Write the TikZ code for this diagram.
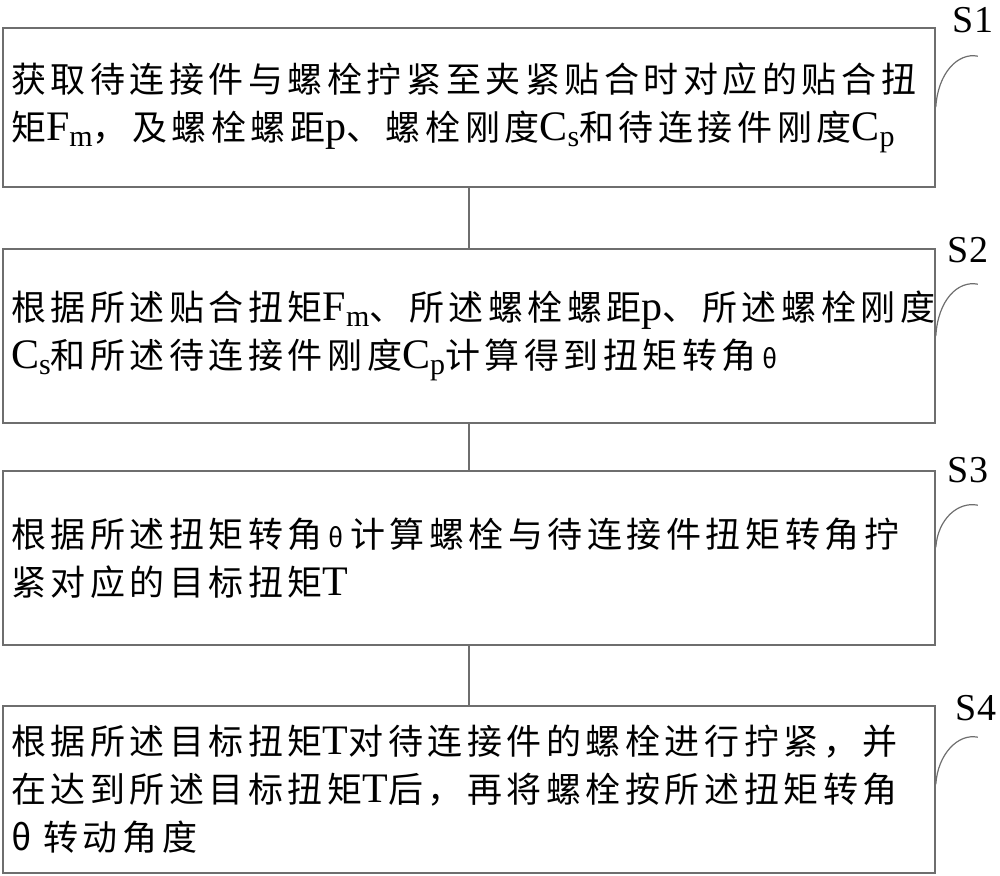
\documentclass[tikz,border=0pt]{standalone}
\usepackage{fontspec}
\setmainfont{Liberation Serif}
\newfontfamily\cjk[LetterSpace=13]{Noto Sans CJK SC}
\definecolor{framegray}{RGB}{110,110,110}
\newcommand{\lat}[1]{{\rmfamily\fontsize{21}{24}\selectfont #1}}
\newcommand{\lsub}[1]{\raisebox{-3pt}{\rmfamily\fontsize{15}{15}\selectfont #1}}
\newcommand{\thetasmall}{\hspace{3pt}{\fontsize{13}{13}\selectfont θ}\hspace{3pt}}

\begin{document}
\begin{tikzpicture}[x=0.5pt,y=-0.5pt,
    stepbox/.style={draw=framegray, line width=0.8pt, text width=458pt, inner xsep=4pt,
      align=left, font=\cjk\fontsize{17.5}{24}\selectfont},
    steplabel/.style={font=\rmfamily\fontsize{19}{19}\selectfont, inner sep=0pt},
    leader/.style={draw=framegray, line width=0.6pt},
    link/.style={draw=framegray, line width=0.8pt}]
    \useasboundingbox (0,0) rectangle (1000,876);
    \node[stepbox, minimum height=79.5pt] (s1) at (469,107.5)
      {获取待连接件与螺栓拧紧至夹紧贴合时对应的贴合扭\\矩\lat{F}\lsub{m}，及螺栓螺距\lat{p}、螺栓刚度\lat{C}\lsub{s}和待连接件刚度\lat{C}\lsub{p}};
    \node[stepbox, minimum height=87pt] (s2) at (469,336)
      {根据所述贴合扭矩\lat{F}\lsub{m}、所述螺栓螺距\lat{p}、所述螺栓刚度\\\lat{C}\lsub{s}和所述待连接件刚度\lat{C}\lsub{p}计算得到扭矩转角\thetasmall};
    \node[stepbox, minimum height=87pt] (s3) at (469,558)
      {根据所述扭矩转角\thetasmall 计算螺栓与待连接件扭矩转角拧\\紧对应的目标扭矩\lat{T}};
    \node[stepbox, minimum height=83.5pt] (s4) at (469,789.5)
      {根据所述目标扭矩\lat{T}对待连接件的螺栓进行拧紧，并\\在达到所述目标扭矩\lat{T}后，再将螺栓按所述扭矩转角\\θ\hspace{6pt}转动角度};
    \node[steplabel] (l1) at (973,20) {S1};
    \node[steplabel] (l2) at (968,250) {S2};
    \node[steplabel] (l3) at (968,470) {S3};
    \node[steplabel] (l4) at (976,708) {S4};
    \draw[link] (s1) -- (s2);
    \draw[link] (s2) -- (s3);
    \draw[link] (s3) -- (s4);
    \draw[leader] ([yshift=-40pt]s1.north east) .. controls +(1pt,17pt) and +(-10pt,2pt) .. ([xshift=21pt,yshift=-14.5pt]s1.north east);
    \draw[leader] ([yshift=-44pt]s2.north east) .. controls +(1pt,18pt) and +(-10pt,2pt) .. ([xshift=21pt,yshift=-18pt]s2.north east);
    \draw[leader] ([yshift=-38.5pt]s3.north east) .. controls +(1pt,14pt) and +(-10pt,2pt) .. ([xshift=21pt,yshift=-17.5pt]s3.north east);
    \draw[leader] ([yshift=-39.5pt]s4.north east) .. controls +(1pt,15pt) and +(-10pt,2pt) .. ([xshift=21pt,yshift=-16pt]s4.north east);
\end{tikzpicture}
\end{document}
